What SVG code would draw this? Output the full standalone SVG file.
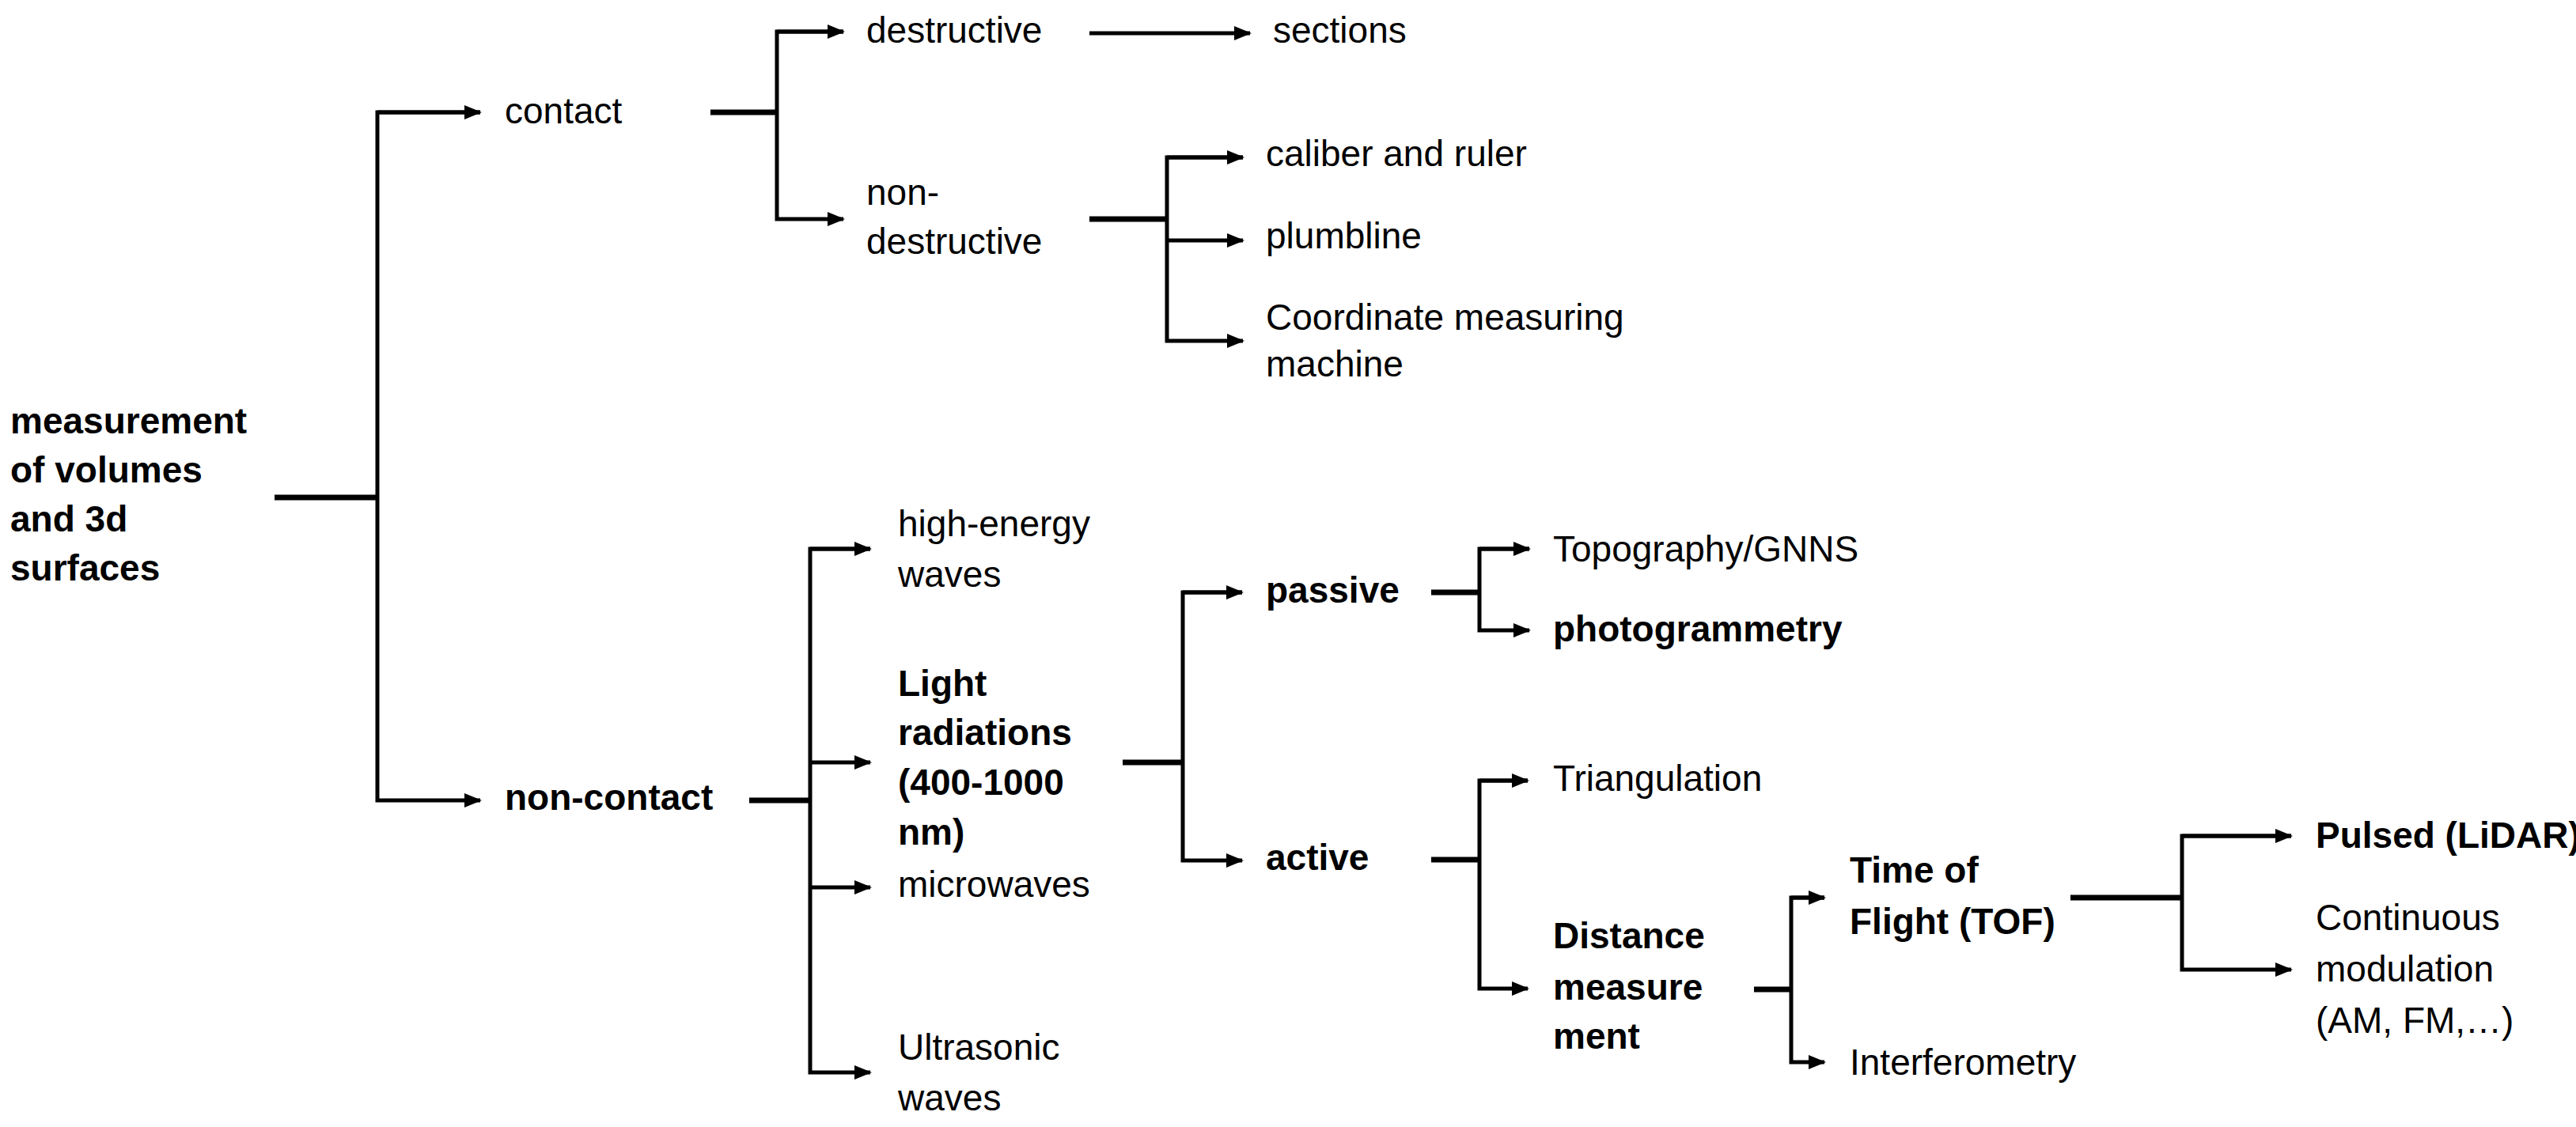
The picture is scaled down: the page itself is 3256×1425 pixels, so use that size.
<svg xmlns="http://www.w3.org/2000/svg" width="3256" height="1425" viewBox="0 0 3256 1425">
<style>
text{font-family:"Liberation Sans",Arial,sans-serif;font-size:46px;fill:#000}
.b{font-weight:bold}
.c line,.c path{stroke:#000;stroke-width:5;fill:none}
.c .t{stroke-width:7}
</style>
<defs>
<marker id="ah" markerUnits="userSpaceOnUse" markerWidth="22" markerHeight="18" refX="20" refY="9" orient="auto"><path d="M0,0 L22,9 L0,18 z" fill="#000"/></marker>
</defs>
<rect width="3256" height="1425" fill="#fff"/>
<g class="c" id="connectors">
<line class="t" x1="347" y1="629" x2="477" y2="629"/>
<path d="M607,142 H477 V1012 H607" marker-start="url(#ah)" marker-end="url(#ah)" style="marker-start:none"/>
<line x1="477" y1="142" x2="607" y2="142" marker-end="url(#ah)"/>
<line class="t" x1="898" y1="142" x2="982" y2="142"/>
<path d="M1066,40 H982 V277 H1066" marker-end="url(#ah)"/>
<line x1="982" y1="40" x2="1066" y2="40" marker-end="url(#ah)"/>
<line x1="1377" y1="42" x2="1580" y2="42" marker-end="url(#ah)"/>
<line class="t" x1="1377" y1="277" x2="1475" y2="277"/>
<path d="M1571,199 H1475 V431 H1571" marker-end="url(#ah)"/>
<line x1="1475" y1="199" x2="1571" y2="199" marker-end="url(#ah)"/>
<line x1="1475" y1="304" x2="1571" y2="304" marker-end="url(#ah)"/>
<line class="t" x1="947" y1="1012" x2="1024" y2="1012"/>
<path d="M1100,694 H1024 V1356 H1100" marker-end="url(#ah)"/>
<line x1="1024" y1="694" x2="1100" y2="694" marker-end="url(#ah)"/>
<line x1="1024" y1="964" x2="1100" y2="964" marker-end="url(#ah)"/>
<line x1="1024" y1="1122" x2="1100" y2="1122" marker-end="url(#ah)"/>
<line class="t" x1="1419" y1="964" x2="1495" y2="964"/>
<path d="M1570,749 H1495 V1088 H1570" marker-end="url(#ah)"/>
<line x1="1495" y1="749" x2="1570" y2="749" marker-end="url(#ah)"/>
<line class="t" x1="1809" y1="749" x2="1870" y2="749"/>
<path d="M1933,694 H1870 V797 H1933" marker-end="url(#ah)"/>
<line x1="1870" y1="694" x2="1933" y2="694" marker-end="url(#ah)"/>
<line class="t" x1="1809" y1="1087" x2="1870" y2="1087"/>
<path d="M1931,987 H1870 V1250 H1931" marker-end="url(#ah)"/>
<line x1="1870" y1="987" x2="1931" y2="987" marker-end="url(#ah)"/>
<line class="t" x1="2217" y1="1251" x2="2264" y2="1251"/>
<path d="M2306,1135 H2264 V1343 H2306" marker-end="url(#ah)"/>
<line x1="2264" y1="1135" x2="2306" y2="1135" marker-end="url(#ah)"/>
<line class="t" x1="2617" y1="1135" x2="2758" y2="1135"/>
<path d="M2896,1057 H2758 V1226 H2896" marker-end="url(#ah)"/>
<line x1="2758" y1="1057" x2="2896" y2="1057" marker-end="url(#ah)"/>
</g>
<g id="root" class="b"><text class="b" x="13" y="548">measurement</text><text class="b" x="13" y="610">of volumes</text><text class="b" x="13" y="672">and 3d</text><text class="b" x="13" y="734">surfaces</text></g>
<g id="contact"><text x="638" y="156">contact</text></g>
<g id="noncontact"><text class="b" x="638" y="1024">non-contact</text></g>
<g id="destructive"><text x="1095" y="54">destructive</text></g>
<g id="sections"><text x="1609" y="54">sections</text></g>
<g id="nondestructive"><text x="1095" y="259">non-</text><text x="1095" y="321">destructive</text></g>
<g id="caliber"><text x="1600" y="210">caliber and ruler</text></g>
<g id="plumbline"><text x="1600" y="314">plumbline</text></g>
<g id="cmm"><text x="1600" y="417">Coordinate measuring</text><text x="1600" y="476">machine</text></g>
<g id="highenergy"><text x="1135" y="678">high-energy</text><text x="1135" y="742">waves</text></g>
<g id="light"><text class="b" x="1135" y="880">Light</text><text class="b" x="1135" y="942">radiations</text><text class="b" x="1135" y="1005">(400-1000</text><text class="b" x="1135" y="1068">nm)</text></g>
<g id="microwaves"><text x="1135" y="1134">microwaves</text></g>
<g id="ultrasonic"><text x="1135" y="1340">Ultrasonic</text><text x="1135" y="1404">waves</text></g>
<g id="passive"><text class="b" x="1600" y="762">passive</text></g>
<g id="active"><text class="b" x="1600" y="1100">active</text></g>
<g id="topography"><text x="1963" y="710">Topography/GNNS</text></g>
<g id="photogrammetry"><text class="b" x="1963" y="811">photogrammetry</text></g>
<g id="triangulation"><text x="1963" y="1000">Triangulation</text></g>
<g id="distance"><text class="b" x="1963" y="1199">Distance</text><text class="b" x="1963" y="1264">measure</text><text class="b" x="1963" y="1326">ment</text></g>
<g id="tof"><text class="b" x="2338" y="1116">Time of</text><text class="b" x="2338" y="1181">Flight (TOF)</text></g>
<g id="interferometry"><text x="2338" y="1359">Interferometry</text></g>
<g id="pulsed"><text class="b" x="2927" y="1072">Pulsed (LiDAR)</text></g>
<g id="continuous"><text x="2927" y="1176">Continuous</text><text x="2927" y="1241">modulation</text><text x="2927" y="1306">(AM, FM,…)</text></g>
</svg>
